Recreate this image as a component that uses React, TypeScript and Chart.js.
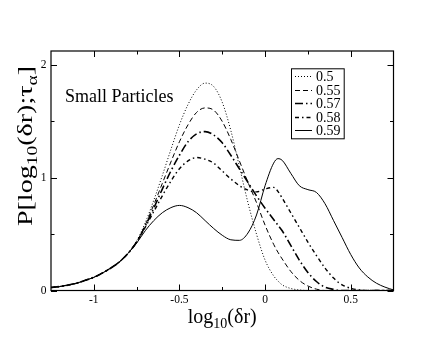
import React, { useEffect, useRef } from "react";
import { Chart, registerables } from "chart.js";

Chart.register(...registerables);

// log10(δr) grid
const xValues = [
  -1.25, -1.2, -1.15, -1.1, -1.05, -1, -0.95, -0.9, -0.85, -0.8,
  -0.75, -0.7, -0.65, -0.6, -0.55, -0.5, -0.45, -0.4, -0.35, -0.3,
  -0.25, -0.2, -0.15, -0.1, -0.05, 0, 0.05, 0.075, 0.1, 0.15,
  0.2, 0.25, 0.3, 0.35, 0.4, 0.45, 0.5, 0.55, 0.6, 0.65,
  0.7, 0.75,
];

const series050 = [
  0.027, 0.035, 0.048, 0.065, 0.09, 0.117, 0.155, 0.2, 0.255, 0.33,
  0.44, 0.6, 0.8, 1.02, 1.25, 1.47, 1.65, 1.78, 1.84, 1.81,
  1.67, 1.42, 1.1, 0.78, 0.5, 0.27, 0.13, 0.085, 0.05, 0.018,
  0.005, 0, 0, 0, 0, 0, 0, 0, 0, 0,
  0, 0,
];

const series055 = [
  0.027, 0.035, 0.048, 0.065, 0.09, 0.117, 0.155, 0.2, 0.255, 0.33,
  0.43, 0.58, 0.76, 0.95, 1.14, 1.32, 1.47, 1.58, 1.62, 1.6,
  1.5, 1.34, 1.15, 0.96, 0.78, 0.58, 0.41, 0.34, 0.28, 0.17,
  0.09, 0.04, 0.012, 0, 0, 0, 0, 0, 0, 0,
  0, 0,
];

const series057 = [
  0.027, 0.035, 0.048, 0.065, 0.09, 0.117, 0.155, 0.2, 0.255, 0.33,
  0.43, 0.57, 0.73, 0.9, 1.06, 1.2, 1.32, 1.39, 1.41, 1.38,
  1.31, 1.2, 1.08, 0.96, 0.84, 0.73, 0.63, 0.58, 0.53, 0.4,
  0.27, 0.16, 0.08, 0.03, 0.01, 0, 0, 0, 0, 0,
  0, 0,
];

const series058 = [
  0.027, 0.035, 0.048, 0.065, 0.09, 0.117, 0.155, 0.2, 0.255, 0.33,
  0.43, 0.56, 0.7, 0.84, 0.97, 1.08, 1.15, 1.18, 1.165, 1.13,
  1.06, 0.99, 0.93, 0.89, 0.875, 0.9, 0.915, 0.88, 0.82, 0.69,
  0.56, 0.43, 0.31, 0.2, 0.11, 0.05, 0.02, 0.005, 0, 0,
  0, 0,
];

const series059 = [
  0.027, 0.035, 0.048, 0.065, 0.09, 0.117, 0.155, 0.2, 0.255, 0.33,
  0.42, 0.53, 0.62, 0.69, 0.735, 0.755, 0.735, 0.69, 0.62, 0.55,
  0.49, 0.45, 0.445, 0.51, 0.67, 0.93, 1.13, 1.17, 1.155, 1.04,
  0.93, 0.895, 0.87, 0.77, 0.62, 0.47, 0.32, 0.2, 0.12, 0.065,
  0.03, 0.005,
];

const seriesLabels = ["0.5", "0.55", "0.57", "0.58", "0.59"];
const xMajorTicks = [-1, -0.5, 0, 0.5];
const xMinorTicks = [-0.75, -0.25, 0.25];
const yMajorTicks = [0, 1, 2];
const yMinorTicks = [0.5, 1.5];
const annotationText = "Small Particles";

const FONT = "'Liberation Serif', 'Times New Roman', serif";

const lineStyles = [
  { dash: [1, 2], width: 1 },
  { dash: [5, 3], width: 1 },
  { dash: [8, 3, 1.5, 3], width: 1.6 },
  { dash: [4, 3, 1.5, 3], width: 1.4 },
  { dash: [] as number[], width: 1 },
];

function drawPieces(
  ctx: CanvasRenderingContext2D,
  pieces: { t: string; size: number; dy: number }[],
  startX: number,
  baseY: number
) {
  let x = startX;
  for (const p of pieces) {
    ctx.font = `${p.size}px ${FONT}`;
    ctx.fillText(p.t, x, baseY + p.dy);
    x += ctx.measureText(p.t).width;
  }
}

function piecesWidth(ctx: CanvasRenderingContext2D, pieces: { t: string; size: number; dy: number }[]) {
  let w = 0;
  for (const p of pieces) {
    ctx.font = `${p.size}px ${FONT}`;
    w += ctx.measureText(p.t).width;
  }
  return w;
}

const decorPlugin = {
  id: "decor",
  afterDatasetsDraw(chart: any) {
    const { ctx, chartArea: ca, scales } = chart;
    const xs = scales.x;
    const ys = scales.y;
    ctx.save();
    ctx.setLineDash([]);
    ctx.strokeStyle = "#000";
    ctx.fillStyle = "#000";

    // frame
    ctx.lineWidth = 1.2;
    ctx.strokeRect(ca.left, ca.top, ca.right - ca.left, ca.bottom - ca.top);

    // inward ticks on all sides
    ctx.lineWidth = 1;
    const major = 6;
    const minor = 3.5;
    ctx.beginPath();
    const xt = (v: number, len: number) => {
      const p = Math.round(xs.getPixelForValue(v)) + 0.5;
      ctx.moveTo(p, ca.bottom);
      ctx.lineTo(p, ca.bottom - len);
      ctx.moveTo(p, ca.top);
      ctx.lineTo(p, ca.top + len);
    };
    const yt = (v: number, len: number) => {
      const p = Math.round(ys.getPixelForValue(v)) + 0.5;
      ctx.moveTo(ca.left, p);
      ctx.lineTo(ca.left + len, p);
      ctx.moveTo(ca.right, p);
      ctx.lineTo(ca.right - len, p);
    };
    xMajorTicks.forEach((v) => xt(v, major));
    xMinorTicks.forEach((v) => xt(v, minor));
    yMajorTicks.forEach((v) => yt(v, major));
    yMinorTicks.forEach((v) => yt(v, minor));
    ctx.stroke();

    // annotation
    ctx.textAlign = "left";
    ctx.textBaseline = "alphabetic";
    ctx.font = `18px ${FONT}`;
    ctx.fillText(annotationText, ca.left + 14, ca.top + 51);

    // legend box
    const bx = ca.left + 240;
    const by = ca.top + 17.3;
    const bw = 52.7;
    const bh = 70;
    ctx.fillStyle = "#fff";
    ctx.fillRect(bx, by, bw, bh);
    ctx.fillStyle = "#000";
    ctx.lineWidth = 1;
    ctx.strokeRect(bx + 0.5, by + 0.5, bw, bh);
    ctx.font = `14px ${FONT}`;
    ctx.textBaseline = "middle";
    chart.data.datasets.forEach((ds: any, i: number) => {
      const ry = Math.round(by + 8 + i * 13.5) + 0.5;
      ctx.setLineDash(ds.borderDash || []);
      ctx.lineWidth = ds.borderWidth;
      ctx.beginPath();
      ctx.moveTo(bx + 4, ry);
      ctx.lineTo(bx + 21, ry);
      ctx.stroke();
      ctx.setLineDash([]);
      ctx.fillText(ds.label, bx + 25, ry + 0.5);
    });

    // x axis title: log10(δr)
    ctx.textBaseline = "alphabetic";
    const xPieces = [
      { t: "log", size: 20, dy: 0 },
      { t: "10", size: 14, dy: 5 },
      { t: "(δr)", size: 20, dy: 0 },
    ];
    const xw = piecesWidth(ctx, xPieces);
    const cx = (ca.left + ca.right) / 2;
    drawPieces(ctx, xPieces, cx - xw / 2, 323);

    // y axis title: P[log10(δr);τα]
    const yPieces = [
      { t: "P[log", size: 20, dy: 0 },
      { t: "10", size: 14, dy: 5 },
      { t: "(δr);τ", size: 20, dy: 0 },
      { t: "α", size: 14, dy: 5 },
      { t: "]", size: 20, dy: 0 },
    ];
    const yw = piecesWidth(ctx, yPieces);
    const stretch = 1.4;
    ctx.save();
    ctx.translate(32, 146);
    ctx.rotate(-Math.PI / 2);
    ctx.scale(stretch, 1);
    drawPieces(ctx, yPieces, -yw / 2, 0);
    ctx.restore();

    ctx.restore();
  },
};

export default function App() {
  const canvasRef = useRef<HTMLCanvasElement | null>(null);

  useEffect(() => {
    if (!canvasRef.current) return;
    const allSeries = [series050, series055, series057, series058, series059];
    const datasets = allSeries.map((s, i) => ({
      label: seriesLabels[i],
      data: xValues.map((x, j) => ({ x, y: s[j] })),
      borderColor: "#000",
      backgroundColor: "#000",
      borderWidth: lineStyles[i].width,
      borderDash: lineStyles[i].dash,
      pointRadius: 0,
      fill: false,
      cubicInterpolationMode: "monotone" as const,
    }));

    const chart = new Chart(canvasRef.current, {
      type: "line",
      data: { datasets },
      plugins: [decorPlugin],
      options: {
        responsive: false,
        animation: false,
        layout: { padding: { left: 0, right: 49.5, top: 51, bottom: 0 } },
        plugins: { legend: { display: false }, tooltip: { enabled: false } },
        scales: {
          x: {
            type: "linear",
            min: -1.25,
            max: 0.75,
            grid: { display: false, drawTicks: false },
            border: { display: false },
            ticks: {
              color: "#000",
              font: { family: FONT, size: 11.5 },
              padding: 3,
              maxRotation: 0,
              autoSkip: false,
              callback: (v: any) => String(v),
            },
            afterBuildTicks: (scale: any) => {
              scale.ticks = xMajorTicks.map((v) => ({ value: v }));
            },
            afterFit: (scale: any) => {
              scale.height = 51.5;
            },
          },
          y: {
            type: "linear",
            min: 0,
            max: 2.125,
            grid: { display: false, drawTicks: false },
            border: { display: false },
            ticks: {
              color: "#000",
              font: { family: FONT, size: 11.5 },
              padding: 4.5,
              autoSkip: false,
              callback: (v: any) => String(v),
            },
            afterBuildTicks: (scale: any) => {
              scale.ticks = yMajorTicks.map((v) => ({ value: v }));
            },
            afterFit: (scale: any) => {
              scale.width = 51;
            },
          },
        },
      },
    });
    return () => chart.destroy();
  }, []);

  return (
    <div style={{ position: "fixed", left: 0, top: 0, width: 443, height: 342, background: "#fff" }}>
      <canvas ref={canvasRef} width={443} height={342} style={{ display: "block" }} />
    </div>
  );
}
